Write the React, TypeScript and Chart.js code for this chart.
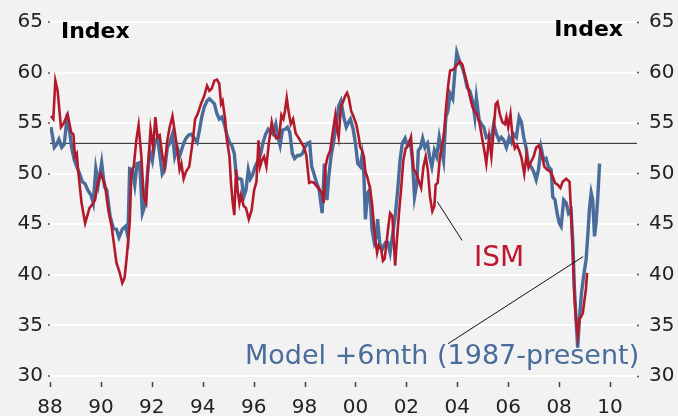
import React, { useEffect, useRef } from "react";
import { Chart, registerables } from "chart.js";

Chart.register(...registerables);

// ---- Data (decimal years) ----
const ismYears = [
  1988.04, 1988.13, 1988.21, 1988.3, 1988.43, 1988.52, 1988.69, 1988.83, 1988.92, 1988.98,
  1989.05, 1989.11, 1989.24, 1989.38, 1989.55, 1989.7, 1989.77, 1989.87, 1990.0, 1990.16,
  1990.29, 1990.42, 1990.61, 1990.74, 1990.84, 1990.93, 1991.02, 1991.13, 1991.2, 1991.29,
  1991.39, 1991.48, 1991.59, 1991.68, 1991.78, 1991.85, 1991.95, 1992.05, 1992.14, 1992.22,
  1992.31, 1992.4, 1992.5, 1992.61, 1992.7, 1992.81, 1992.91, 1993.03, 1993.09, 1993.16,
  1993.25, 1993.34, 1993.47, 1993.61, 1993.7, 1993.8, 1993.93, 1994.06, 1994.17, 1994.26,
  1994.35, 1994.46, 1994.56, 1994.65, 1994.72, 1994.78, 1994.88, 1994.94, 1995.05, 1995.11,
  1995.18, 1995.24, 1995.31, 1995.37, 1995.44, 1995.5, 1995.61, 1995.7, 1995.81, 1995.92,
  1996.02, 1996.11, 1996.19, 1996.25, 1996.32, 1996.41, 1996.5, 1996.6, 1996.71, 1996.8,
  1996.89, 1997.0, 1997.09, 1997.17, 1997.23, 1997.3, 1997.37, 1997.46, 1997.55, 1997.65,
  1997.78, 1997.89, 1997.98, 1998.07, 1998.18, 1998.28, 1998.37, 1998.5, 1998.62, 1998.69,
  1998.75, 1998.82, 1998.91, 1999.01, 1999.12, 1999.21, 1999.28, 1999.34, 1999.43, 1999.51,
  1999.6, 1999.67, 1999.74, 1999.83, 1999.93, 2000.04, 2000.13, 2000.19, 2000.26, 2000.33,
  2000.39, 2000.46, 2000.56, 2000.65, 2000.72, 2000.78, 2000.85, 2000.91, 2001.01, 2001.08,
  2001.15, 2001.27, 2001.36, 2001.45, 2001.56, 2001.62, 2001.71, 2001.79, 2001.88, 2001.97,
  2002.08, 2002.18, 2002.28, 2002.37, 2002.47, 2002.58, 2002.67, 2002.76, 2002.84, 2002.93,
  2003.02, 2003.1, 2003.15, 2003.23, 2003.32, 2003.42, 2003.49, 2003.56, 2003.65, 2003.72,
  2003.85, 2003.97, 2004.1, 2004.2, 2004.29, 2004.39, 2004.49, 2004.6, 2004.69, 2004.78,
  2004.88, 2004.99, 2005.08, 2005.14, 2005.25, 2005.34, 2005.43, 2005.51, 2005.58, 2005.67,
  2005.77, 2005.87, 2005.93, 2006.0, 2006.09, 2006.17, 2006.26, 2006.35, 2006.43, 2006.52,
  2006.63, 2006.72, 2006.8, 2006.9, 2007.0, 2007.1, 2007.2, 2007.32, 2007.42, 2007.53,
  2007.66, 2007.75, 2007.84, 2007.95, 2008.05, 2008.14, 2008.28, 2008.41, 2008.47, 2008.54,
  2008.6, 2008.67, 2008.73, 2008.8, 2008.93, 2008.99, 2009.05, 2009.1,
];
const ismValues = [
  55.7, 55.4, 59.2, 58.2, 54.6, 54.9, 55.9, 54.1, 53.9, 51.7,
  52.0, 50.2, 47.1, 45.1, 46.6, 47.1, 47.4, 49.0, 50.0, 48.9,
  46.4, 44.8, 41.2, 40.2, 39.2, 39.7, 41.9, 45.1, 50.2, 50.7,
  53.3, 54.8, 51.7, 47.7, 47.1, 50.7, 54.4, 52.6, 55.6, 53.6,
  53.8, 52.0, 50.7, 53.3, 54.6, 55.7, 54.0, 51.7, 50.4, 51.0,
  49.5, 50.2, 50.7, 53.3, 55.4, 55.9, 56.9, 57.7, 58.7, 58.2,
  58.4, 59.2, 59.3, 58.9, 56.9, 57.2, 55.4, 53.5, 51.7, 49.1,
  47.1, 45.9, 50.4, 48.4, 47.1, 47.9, 46.8, 46.6, 45.5, 46.4,
  48.4, 49.2, 53.3, 50.7, 51.3, 51.7, 50.7, 53.1, 55.1, 54.0,
  53.5, 53.6, 55.8, 55.4, 56.2, 57.5, 56.2, 54.9, 55.4, 54.0,
  53.5, 53.0, 52.6, 51.8, 49.1, 49.2, 49.1, 48.7, 48.3, 48.1,
  47.1, 50.7, 51.7, 52.3, 54.3, 55.8, 54.4, 53.6, 56.6, 57.1,
  57.7, 58.0, 57.5, 56.2, 55.6, 54.8, 53.6, 52.6, 52.3, 51.7,
  50.2, 49.7, 48.7, 47.1, 45.1, 43.5, 42.2, 42.9, 42.5, 41.4,
  41.6, 44.3, 46.1, 45.8, 40.9, 43.2, 46.1, 48.4, 51.3, 52.5,
  52.8, 53.6, 50.4, 50.2, 49.4, 48.6, 50.7, 51.7, 50.4, 47.7,
  46.3, 46.8, 48.9, 49.1, 51.7, 53.0, 54.3, 56.6, 58.9, 60.2,
  60.3, 60.7, 61.1, 60.8, 59.8, 58.9, 57.7, 56.6, 56.1, 55.9,
  54.9, 53.3, 52.0, 51.0, 53.6, 51.7, 54.3, 56.9, 57.1, 55.9,
  55.1, 54.9, 55.6, 54.6, 55.9, 53.6, 52.5, 52.8, 52.3, 51.6,
  50.0, 51.9, 50.6, 51.2, 51.7, 52.6, 52.8, 51.8, 50.7, 50.4,
  50.2, 49.7, 49.1, 48.9, 48.6, 49.2, 49.5, 49.2, 46.1, 41.9,
  38.0, 35.4, 34.0, 35.6, 36.2, 37.4, 38.5, 40.2,
];

const modelYears = [
  1988.04, 1988.17, 1988.26, 1988.35, 1988.46, 1988.56, 1988.66, 1988.75, 1988.85, 1988.96,
  1989.05, 1989.18, 1989.27, 1989.38, 1989.48, 1989.61, 1989.7, 1989.8, 1989.9, 1990.03,
  1990.14, 1990.23, 1990.36, 1990.49, 1990.61, 1990.71, 1990.84, 1990.97, 1991.06, 1991.13,
  1991.24, 1991.33, 1991.42, 1991.52, 1991.63, 1991.72, 1991.82, 1991.92, 1992.02, 1992.11,
  1992.22, 1992.31, 1992.41, 1992.51, 1992.61, 1992.7, 1992.81, 1992.9, 1993.0, 1993.09,
  1993.25, 1993.34, 1993.44, 1993.54, 1993.64, 1993.78, 1993.87, 1993.96, 1994.06, 1994.17,
  1994.26, 1994.35, 1994.46, 1994.56, 1994.65, 1994.75, 1994.85, 1994.94, 1995.05, 1995.14,
  1995.24, 1995.31, 1995.37, 1995.47, 1995.53, 1995.61, 1995.7, 1995.79, 1995.87, 1995.96,
  1996.02, 1996.11, 1996.19, 1996.28, 1996.37, 1996.47, 1996.57, 1996.67, 1996.76, 1996.87,
  1996.96, 1997.04, 1997.13, 1997.23, 1997.33, 1997.42, 1997.52, 1997.61, 1997.72, 1997.81,
  1997.92, 1998.01, 1998.11, 1998.2, 1998.28, 1998.37, 1998.46, 1998.57, 1998.69, 1998.78,
  1998.88, 1998.95, 1999.04, 1999.15, 1999.25, 1999.34, 1999.43, 1999.54, 1999.64, 1999.73,
  1999.8, 1999.91, 2000.0, 2000.09, 2000.19, 2000.26, 2000.33, 2000.39, 2000.48, 2000.56,
  2000.65, 2000.74, 2000.82, 2000.87, 2000.95, 2001.05, 2001.18, 2001.27, 2001.36, 2001.45,
  2001.56, 2001.66, 2001.75, 2001.84, 2001.95, 2002.04, 2002.15, 2002.24, 2002.32, 2002.41,
  2002.47, 2002.56, 2002.64, 2002.73, 2002.83, 2002.91, 2003.0, 2003.1, 2003.19, 2003.29,
  2003.36, 2003.46, 2003.55, 2003.63, 2003.72, 2003.82, 2003.91, 2003.98, 2004.1, 2004.2,
  2004.29, 2004.39, 2004.49, 2004.6, 2004.69, 2004.75, 2004.86, 2004.95, 2005.04, 2005.14,
  2005.25, 2005.34, 2005.43, 2005.54, 2005.64, 2005.73, 2005.83, 2005.93, 2006.04, 2006.13,
  2006.22, 2006.32, 2006.43, 2006.52, 2006.61, 2006.7, 2006.79, 2006.9, 2007.0, 2007.1,
  2007.19, 2007.29, 2007.4, 2007.49, 2007.58, 2007.69, 2007.75, 2007.84, 2007.92, 2008.01,
  2008.08, 2008.18, 2008.28, 2008.37, 2008.47, 2008.54, 2008.6, 2008.67, 2008.73, 2008.8,
  2008.88, 2008.97, 2009.06, 2009.13, 2009.19, 2009.26, 2009.32, 2009.39, 2009.45, 2009.52,
  2009.59,
];
const modelValues = [
  54.6, 52.6, 52.9, 53.4, 52.6, 52.9, 55.3, 54.6, 52.6, 51.3,
  50.7, 49.9, 49.2, 49.0, 48.4, 47.9, 47.1, 50.5, 49.0, 51.1,
  48.7, 48.4, 45.8, 44.6, 44.5, 43.7, 44.5, 44.8, 43.8, 50.5,
  50.4, 48.9, 51.0, 51.1, 46.1, 46.8, 49.7, 52.3, 51.3, 53.0,
  53.5, 52.0, 50.0, 50.5, 52.6, 53.0, 53.9, 51.7, 52.6, 51.7,
  53.0, 53.5, 53.8, 53.9, 53.6, 53.1, 54.3, 55.6, 56.6, 57.2,
  57.4, 57.2, 56.9, 55.9, 55.4, 55.6, 54.9, 53.9, 53.1, 52.8,
  52.0, 50.0, 49.5, 49.5, 49.4, 47.7, 48.4, 50.4, 49.5, 49.9,
  50.4, 51.0, 51.3, 52.0, 53.1, 53.9, 54.4, 54.1, 53.9, 54.9,
  53.6, 52.8, 54.3, 54.4, 54.6, 54.1, 52.0, 51.5, 51.8, 51.8,
  52.0, 52.6, 53.0, 53.1, 50.7, 50.0, 49.2, 48.5, 46.1, 51.0,
  47.4, 49.7, 51.7, 53.3, 54.9, 56.7, 57.2, 55.6, 54.6, 55.1,
  55.4, 54.4, 53.0, 51.0, 50.7, 51.8, 50.0, 45.5, 48.1, 48.4,
  44.5, 43.2, 43.8, 45.5, 43.2, 42.5, 43.2, 43.2, 42.2, 43.8,
  45.8, 48.4, 51.3, 53.0, 53.5, 52.8, 53.3, 51.3, 47.7, 49.0,
  52.3, 52.6, 53.5, 52.6, 53.0, 51.7, 50.7, 52.3, 51.7, 53.6,
  52.6, 51.3, 55.6, 56.2, 57.9, 57.4, 60.2, 62.0, 61.0, 60.5,
  59.7, 58.5, 58.2, 57.2, 55.6, 57.5, 55.3, 54.9, 54.6, 53.6,
  53.8, 53.5, 54.9, 53.9, 53.3, 53.6, 53.3, 52.6, 53.6, 53.1,
  53.9, 53.6, 55.6, 55.1, 53.6, 52.6, 51.0, 50.7, 50.2, 49.4,
  50.4, 52.6, 51.3, 51.5, 50.7, 50.4, 47.7, 47.4, 46.1, 45.1,
  44.8, 47.4, 47.1, 46.1, 46.4, 43.2, 38.7, 35.4, 32.8, 35.7,
  38.2, 40.0, 41.5, 44.0, 46.5, 48.1, 47.4, 43.8, 45.1, 47.7,
  51.0,
];

const xTickYears = [1988, 1990, 1992, 1994, 1996, 1998, 2000, 2002, 2004, 2006, 2008, 2010];
const yTickValues = [30, 35, 40, 45, 50, 55, 60, 65];
const referenceLevel = 53;
const X_MIN = 1988;
const X_MAX = 2011.06;

// Annotation anchors in data units
const ismLabelAnchor = [2005.64, 40.9];
const ismConnector = [[2003.21, 47.25], [2004.19, 43.4]];
const modelLabelAnchor = [1995.66, 31.2];
const modelConnector = [[2003.64, 33.2], [2008.94, 41.8]];

const RED = "#B3192B";
const BLUE = "#4A6C9B";
const FONT = "'DejaVu Sans', sans-serif";

export default function App() {
  const ref = useRef<HTMLCanvasElement | null>(null);

  useEffect(() => {
    document.body.style.margin = "0";
    document.body.style.background = "#f2f2f2";
    const canvas = ref.current;
    if (!canvas) return;

    const bgPlugin = {
      id: "bg",
      beforeDraw(chart: any) {
        const c = chart.ctx;
        c.save();
        c.fillStyle = "#f2f2f2";
        c.fillRect(0, 0, chart.width, chart.height);
        c.restore();
      },
    };

    const annotPlugin = {
      id: "annot",
      afterDatasetsDraw(chart: any) {
        const c = chart.ctx;
        const xs = chart.scales.x;
        const ys = chart.scales.y;
        const area = chart.chartArea;
        const px = (v: number) => xs.getPixelForValue(v);
        const py = (v: number) => ys.getPixelForValue(v);
        c.save();
        // connectors
        c.strokeStyle = "#111";
        c.lineWidth = 1;
        for (const seg of [ismConnector, modelConnector]) {
          c.beginPath();
          c.moveTo(px(seg[0][0]), py(seg[0][1]));
          c.lineTo(px(seg[1][0]), py(seg[1][1]));
          c.stroke();
        }
        // ISM label
        c.fillStyle = "#BE1530";
        c.font = `28px ${FONT}`;
        c.textAlign = "center";
        c.textBaseline = "alphabetic";
        c.fillText("ISM", px(ismLabelAnchor[0]), py(ismLabelAnchor[1]));
        // Model label
        c.fillStyle = BLUE;
        c.font = `27px ${FONT}`;
        c.textAlign = "left";
        c.fillText("Model +6mth (1987-present)", px(modelLabelAnchor[0]), py(modelLabelAnchor[1]));
        // Index labels
        c.fillStyle = "#000";
        c.font = `bold 22px ${FONT}`;
        c.textAlign = "left";
        c.fillText("Index", area.left + 11, area.top + 16);
        c.textAlign = "right";
        c.fillText("Index", area.right - 14, area.top + 14);
        // x tick marks
        c.strokeStyle = "#444";
        c.lineWidth = 1.5;
        for (const v of xTickYears) {
          const x = Math.round(px(v)) + 0.5;
          c.beginPath();
          c.moveTo(x, area.bottom + 6);
          c.lineTo(x, area.bottom + 11);
          c.stroke();
        }
        c.restore();
      },
    };

    const tickFont = { family: FONT, size: 20 };

    const chart = new Chart(canvas, {
      type: "line",
      data: {
        datasets: [
          {
            label: "ISM",
            data: ismYears.map((x, i) => ({ x, y: ismValues[i] })),
            borderColor: RED,
            borderWidth: 2.6,
            pointRadius: 0,
            tension: 0,
            fill: false,
            order: 1,
          },
          {
            label: "Model +6mth (1987-present)",
            data: modelYears.map((x, i) => ({ x, y: modelValues[i] })),
            borderColor: BLUE,
            borderWidth: 3.4,
            pointRadius: 0,
            tension: 0,
            fill: false,
            order: 2,
          },
          {
            label: "ref",
            data: [
              { x: X_MIN, y: referenceLevel },
              { x: X_MAX, y: referenceLevel },
            ],
            borderColor: "#222",
            borderWidth: 1,
            pointRadius: 0,
            fill: false,
            order: 3,
          },
        ],
      },
      options: {
        responsive: false,
        animation: false,
        layout: { padding: { top: 19, left: 0, right: 0, bottom: 0 } },
        plugins: { legend: { display: false }, tooltip: { enabled: false } },
        scales: {
          x: {
            type: "linear",
            position: "bottom",
            min: X_MIN,
            max: X_MAX,
            afterFit: (s: any) => {
              s.height = 40;
            },
            afterBuildTicks: (s: any) => {
              s.ticks = xTickYears.map((v) => ({ value: v }));
            },
            grid: { drawOnChartArea: false, drawTicks: false },
            border: { display: false },
            ticks: {
              autoSkip: false,
              maxRotation: 0,
              padding: 20,
              font: tickFont,
              color: "#222",
              callback: (v: any) => String(Math.round(v) % 100).padStart(2, "0"),
            },
          },
          y: {
            type: "linear",
            position: "left",
            min: 30,
            max: 65,
            afterFit: (s: any) => {
              s.width = 50;
            },
            afterBuildTicks: (s: any) => {
              s.ticks = yTickValues.map((v) => ({ value: v }));
            },
            grid: {
              color: "#ffffff",
              lineWidth: 2,
              drawTicks: true,
              tickLength: 2,
              tickColor: "#555",
              tickWidth: 1.5,
            },
            border: { display: false },
            ticks: { padding: 5, font: tickFont, color: "#222" },
          },
          y2: {
            type: "linear",
            position: "right",
            min: 30,
            max: 65,
            afterFit: (s: any) => {
              s.width = 41;
            },
            afterBuildTicks: (s: any) => {
              s.ticks = yTickValues.map((v) => ({ value: v }));
            },
            grid: {
              drawOnChartArea: false,
              drawTicks: true,
              tickLength: 2,
              tickColor: "#555",
              tickWidth: 1.5,
            },
            border: { display: false },
            ticks: { padding: 10, font: tickFont, color: "#222" },
          },
        },
      },
      plugins: [bgPlugin, annotPlugin],
    } as any);

    return () => chart.destroy();
  }, []);

  return (
    <div style={{ width: 678, height: 416, background: "#f2f2f2" }}>
      <canvas ref={ref} width={678} height={416} style={{ display: "block" }} />
    </div>
  );
}
